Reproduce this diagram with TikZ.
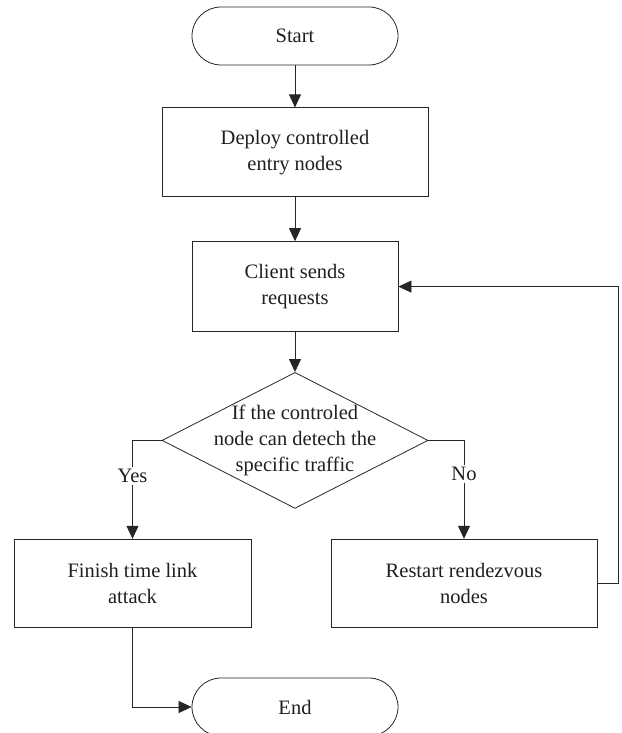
\documentclass[tikz,border=0pt]{standalone}
\usepackage{fontspec}
\setmainfont{Liberation Serif}
\usepackage{tikz}
\usetikzlibrary{positioning,arrows.meta,shapes.geometric,calc}

\begin{document}
\begin{tikzpicture}[
  x=1pt, y=1pt,
  font=\fontsize{20.5}{26}\selectfont,
  every node/.style={text=black!88},
  box/.style={rectangle, draw=black!85, line width=0.8pt, minimum width=266pt, minimum height=89pt, align=center},
  term/.style={box, rounded corners=29pt, minimum width=206pt, minimum height=58pt},
  decision/.style={diamond, draw=black!85, line width=0.8pt, minimum width=266pt, minimum height=136pt, inner sep=0pt},
  arr/.style={-{Triangle[length=13pt, width=12pt]}, line width=0.8pt, black!85},
  tag/.style={fill=white, inner sep=2pt}
]
% page frame
\useasboundingbox (-295,36) rectangle (326,-697);

% main column
\node[term] (start) {Start};
\node[box, below=42pt of start] (deploy) {Deploy controlled\\entry nodes};
\node[box, below=44pt of deploy, minimum width=206pt, minimum height=90pt] (client) {Client sends\\requests};
\node[decision, below=40pt of client,
  label={[align=center]center:If the controled\\node can detech the\\specific traffic}] (check) {};

% branches
\node[box, below=30pt of check, xshift=-162.5pt, minimum width=237pt, minimum height=88pt] (finish) {Finish time link\\attack};
\node[box, below=30pt of check, xshift=169pt, minimum height=88pt] (restart) {Restart rendezvous\\nodes};
\node[term, below=50pt of finish, xshift=162.5pt] (end) {End};

\draw[arr] (start) -- (deploy);
\draw[arr] (deploy) -- (client);
\draw[arr] (client) -- (check);

\draw[arr] (check.west) -| node[tag, pos=0.68] {Yes} (finish.north);
\draw[arr] (check.east) -| node[tag, pos=0.67] {No} (restart.north);

% loop back to the client
\draw[arr] (restart.east) -- ++(21pt,0) |- (client.east);

\draw[arr] (finish.south) |- (end.west);
\end{tikzpicture}
\end{document}
